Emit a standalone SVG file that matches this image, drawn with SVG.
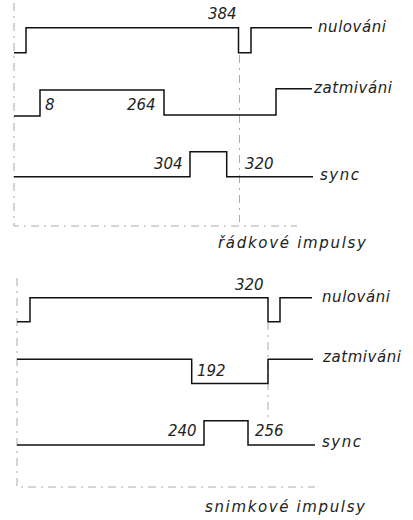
<svg xmlns="http://www.w3.org/2000/svg" width="413" height="520" viewBox="0 0 413 520">
<style>
.sig{fill:none;stroke:#111;stroke-width:1.5}
.axis{fill:none;stroke:#aaa;stroke-width:1;stroke-dasharray:8 5 2 5}
.t{font-family:"DejaVu Sans","Liberation Sans",sans-serif;font-style:italic;font-size:15px;fill:#222}
.lbl{font-family:"DejaVu Sans","Liberation Sans",sans-serif;font-style:italic;font-size:15px;fill:#222}
</style>
<rect width="413" height="520" fill="#fff"/>
<g id="connectors">
<path class="axis" d="M14,3 V226 H297"/>
<path class="axis" d="M239.5,55 V222"/>
<path class="axis" d="M17,278 V487 H315"/>
<path class="axis" d="M268,322 V420"/>
</g>
<g id="radk-nulovani">
<path class="sig" d="M14,52.7 H26 V27.7 H238.5 V52.7 H251 V27.7 H312"/>
<text class="lbl" x="318" y="32" textLength="68">nulováni</text>
<text class="t" x="208" y="19">384</text>
</g>
<g id="radk-zatmivani">
<path class="sig" d="M14,116 H40 V90 H164 V115 H276 V88.7 H312"/>
<text class="lbl" x="314" y="93" textLength="78">zatmiváni</text>
<text class="t" x="45" y="110">8</text>
<text class="t" x="127" y="110">264</text>
</g>
<g id="radk-sync">
<path class="sig" d="M14,176.7 H190 V151.7 H226.7 V176.7 H313"/>
<text class="lbl" x="320" y="180" textLength="39">sync</text>
<text class="t" x="154" y="169">304</text>
<text class="t" x="245" y="169">320</text>
</g>
<text class="lbl" x="218" y="248" textLength="148">řádkové impulsy</text>
<g id="snim-nulovani">
<path class="sig" d="M17,321.7 H30 V297.7 H268 V321.7 H280 V297.7 H312"/>
<text class="lbl" x="322" y="302" textLength="68">nulováni</text>
<text class="t" x="235" y="290">320</text>
</g>
<g id="snim-zatmivani">
<path class="sig" d="M17,359.3 H191.7 V383.5 H268 V359.3 H313"/>
<text class="lbl" x="323" y="362" textLength="78">zatmiváni</text>
<text class="t" x="197" y="376">192</text>
</g>
<g id="snim-sync">
<path class="sig" d="M17,445 H204 V420.7 H248 V445 H315"/>
<text class="lbl" x="322" y="447" textLength="39">sync</text>
<text class="t" x="168" y="436">240</text>
<text class="t" x="255" y="436">256</text>
</g>
<text class="lbl" x="205" y="512" textLength="160">snimkové impulsy</text>
</svg>
